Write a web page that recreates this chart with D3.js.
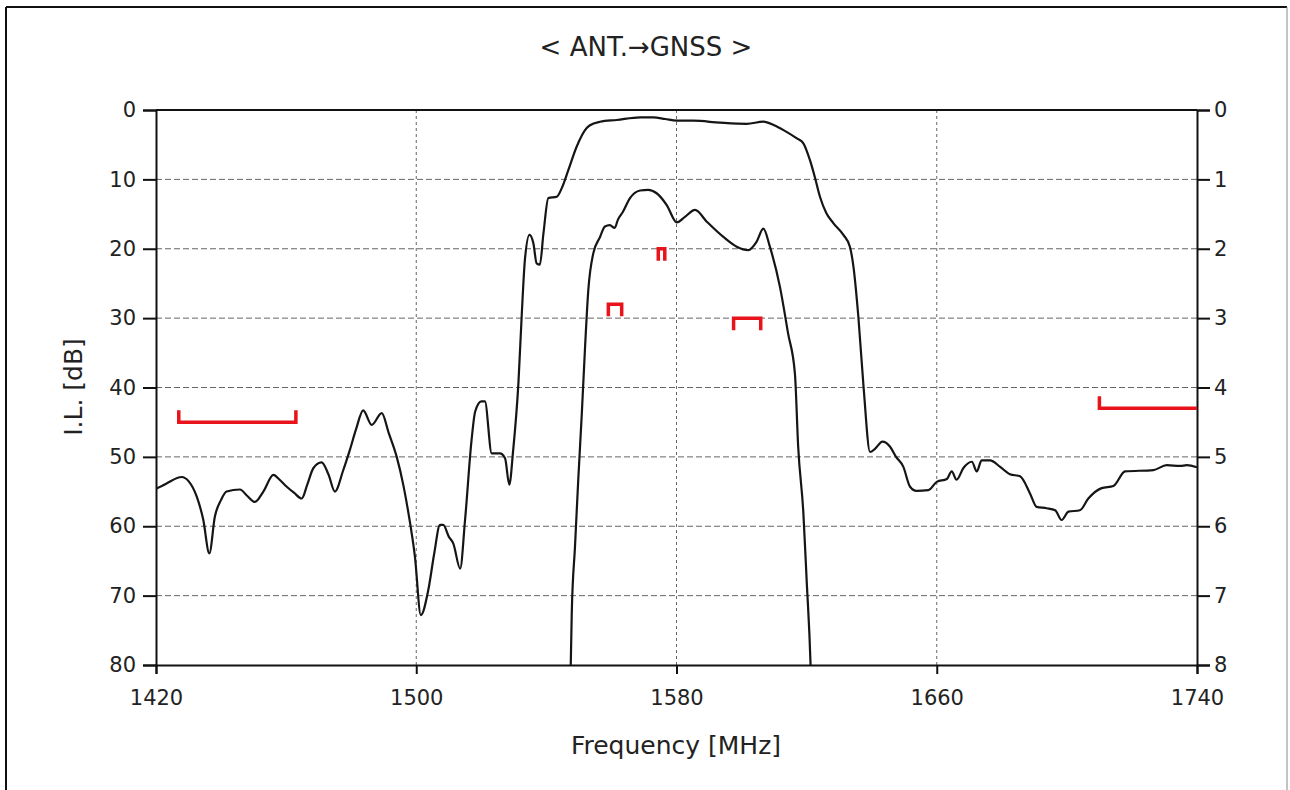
<!DOCTYPE html>
<html>
<head>
<meta charset="utf-8">
<script src="https://cdn.jsdelivr.net/npm/d3@7"></script>
<style>
  html, body { margin: 0; padding: 0; background: #fff; }
  svg { display: block; }
  text { font-family: "DejaVu Sans", Verdana, sans-serif; fill: #222; }
</style>
</head>
<body>
<svg id="chart" width="1290" height="790"></svg>
<script>
// ---------- data ----------
const chartTitle = "< ANT.→GNSS >";
const xLabel = "Frequency [MHz]";
const yLabel = "I.L. [dB]";
const xTicks = [1420, 1500, 1580, 1660, 1740];
const yTicksLeft = [0, 10, 20, 30, 40, 50, 60, 70, 80];
const yTicksRight = [0, 1, 2, 3, 4, 5, 6, 7, 8];

// wide-span insertion loss (left axis, dB)
const wideFreq = [1420.0,1423,1427.9,1430,1432.5,1434.5,1436.4,1438.1,1440,1441.7,1445.8,1448,1450.4,1453,1456.1,1458,1460.2,1462.5,1464.8,1466.5,1468.4,1470.9,1473,1475.0,1477.5,1479.6,1481.5,1483.7,1486.3,1489.4,1491.5,1494.0,1496,1497.6,1499.6,1501.4,1503.7,1505.5,1507.3,1508.3,1510,1511.4,1513.5,1515.0,1517.0,1518.1,1520.0,1521.1,1523.2,1525.7,1527.3,1528.6,1529.8,1531.4,1532.4,1533.4,1534.8,1536.0,1537.0,1538.0,1539.1,1540.6,1543.2,1544.7,1546.8,1549.3,1552.4,1553.4,1556.5,1561.6,1568.8,1572.9,1576.5,1580.1,1585.2,1593.4,1601.6,1606.7,1610,1612.9,1617.0,1619.0,1621.0,1622.6,1624.1,1626,1628.2,1631.3,1633.3,1634.4,1635.9,1637.5,1639.5,1641.1,1643.3,1645.6,1647.5,1649.7,1651.8,1653.8,1657.4,1660.0,1663.1,1664.6,1666.1,1668.2,1670.8,1672.3,1673.8,1676.4,1679.4,1682.5,1685.6,1688.7,1690.7,1693.8,1696.4,1698.4,1700.5,1704.0,1706.6,1710.7,1714.3,1717.9,1726.6,1730.7,1734.8,1736.9,1740];
const wideLoss = [54.6,53.9,52.9,53.5,55.7,59,63.9,58.6,56.2,55.0,54.7,55.6,56.5,55,52.6,53.3,54.3,55.2,56.0,54,51.6,50.8,52.5,55.0,52,49.0,46,43.3,45.4,43.7,46.5,50.0,54,58.1,64.4,72.8,69.2,64,59.8,59.8,61.5,62.5,66.1,59.1,47.6,43.5,42.0,42.0,49.5,49.5,50.2,54.0,49.0,39.4,29.8,21.6,18.0,19.2,22.1,22.3,17.8,12.7,12.5,11.3,8.6,5.3,2.6,2.2,1.7,1.44,1.06,1.06,1.3,1.54,1.54,1.83,2.0,1.68,2.2,2.9,4.1,4.8,7.2,9.8,12.5,14.8,16.3,18.0,19.7,22.6,29.8,39.9,49.3,48.8,47.8,48.5,50,51.4,54.3,54.9,54.8,53.6,53.2,52.1,53.3,51.6,50.7,52.1,50.5,50.5,51.4,52.5,52.8,55.3,57.2,57.4,57.7,59.1,57.9,57.7,56.0,54.5,54.2,52.1,51.9,51.2,51.3,51.2,51.5];

// passband zoom insertion loss (right axis, dB)
const passFreq = [1547.0,1547.5,1547.8,1548.8,1549.8,1550.9,1551.9,1552.9,1554.4,1556.5,1558.0,1559.5,1561.0,1562.0,1563.5,1565.7,1568.8,1571.3,1573.9,1577.0,1580.1,1582.6,1585.7,1589.3,1594.4,1598.5,1602.1,1604.6,1606.7,1608.7,1611.8,1614.3,1616.4,1617.4,1619.0,1620.0,1621.2,1621.4];
const passLoss = [8.5,7.98,7.26,6.29,5.33,4.37,3.41,2.59,2.07,1.83,1.68,1.66,1.70,1.58,1.47,1.27,1.16,1.15,1.20,1.37,1.62,1.54,1.44,1.61,1.83,1.97,2.02,1.90,1.71,1.97,2.55,3.22,3.80,4.85,5.81,6.77,7.98,8.3];

// spec limits: passband max loss (right axis) and stopband min attenuation (left axis)
const passSpecStart = [1574.4, 1559.05, 1597.55];
const passSpecEnd   = [1576.4, 1563.15, 1605.89];
const passSpecLoss  = [2.0, 2.8, 3.0];
const stopSpecStart = [1427, 1710];
const stopSpecEnd   = [1463, 1760];
const stopSpecLoss  = [45, 43];

// ---------- layout ----------
const svg = d3.select("#chart");
const L = 156, T = 110, R = 1197, B = 665;
const x = d3.scaleLinear().domain([1420, 1740]).range([L, R]);
const yL = d3.scaleLinear().domain([0, 80]).range([T, B]);
const yR = d3.scaleLinear().domain([0, 8]).range([T, B]);

// outer frame
svg.append("line").attr("x1", 6).attr("y1", 7).attr("x2", 6).attr("y2", 790).attr("stroke", "#111").attr("stroke-width", 2);
svg.append("line").attr("x1", 6).attr("y1", 7).attr("x2", 1287).attr("y2", 7).attr("stroke", "#111").attr("stroke-width", 2);
svg.append("line").attr("x1", 1287).attr("y1", 7).attr("x2", 1287).attr("y2", 790).attr("stroke", "#888").attr("stroke-width", 1);

// grid
const grid = svg.append("g");
grid.selectAll("line.h").data(yTicksLeft.filter(d => d > 0 && d < 80)).join("line")
  .attr("x1", L).attr("x2", R).attr("y1", d => yL(d)).attr("y2", d => yL(d))
  .attr("stroke", "#666").attr("stroke-width", 1).attr("stroke-dasharray", "6,3");
grid.selectAll("line.v").data(xTicks.filter(d => d > 1420 && d < 1740)).join("line")
  .attr("x1", d => x(d)).attr("x2", d => x(d)).attr("y1", T).attr("y2", B)
  .attr("stroke", "#666").attr("stroke-width", 1).attr("stroke-dasharray", "3,3");

// axes
const fontSize = 21;
const axL = svg.append("g").attr("transform", `translate(${L},0)`)
  .call(d3.axisLeft(yL).tickValues(yTicksLeft).tickSize(13).tickPadding(7));
const axR = svg.append("g").attr("transform", `translate(${R},0)`)
  .call(d3.axisRight(yR).tickValues(yTicksRight).tickSize(13).tickPadding(4));
const axB = svg.append("g").attr("transform", `translate(0,${B})`)
  .call(d3.axisBottom(x).tickValues(xTicks).tickFormat(d3.format("d")).tickSize(9).tickPadding(16));
[axL, axR, axB].forEach(g => {
  g.select(".domain").attr("stroke", "#111").attr("stroke-width", 2);
  g.selectAll(".tick line").attr("stroke", "#111").attr("stroke-width", 2);
  g.selectAll(".tick text").attr("font-size", fontSize).attr("font-family", "DejaVu Sans").attr("fill", "#222");
});
// top frame
svg.append("line").attr("x1", L).attr("x2", R).attr("y1", T).attr("y2", T).attr("stroke", "#111").attr("stroke-width", 2);

// clip
svg.append("clipPath").attr("id", "plotclip").append("rect")
  .attr("x", L).attr("y", T).attr("width", R - L).attr("height", B - T);
const plot = svg.append("g").attr("clip-path", "url(#plotclip)");

// curves
const wideLine = d3.line().x((d, i) => x(wideFreq[i])).y((d, i) => yL(wideLoss[i])).curve(d3.curveMonotoneX);
plot.append("path").datum(wideLoss).attr("d", wideLine)
  .attr("fill", "none").attr("stroke", "#151515").attr("stroke-width", 2.2).attr("stroke-linejoin", "round");
const passLine = d3.line().x((d, i) => x(passFreq[i])).y((d, i) => yR(passLoss[i])).curve(d3.curveMonotoneX);
plot.append("path").datum(passLoss).attr("d", passLine)
  .attr("fill", "none").attr("stroke", "#151515").attr("stroke-width", 2.2).attr("stroke-linejoin", "round");

// spec brackets
const red = "#e8131b", leg = 12;
plot.selectAll("path.pass").data(passSpecLoss).join("path")
  .attr("d", (v, i) => {
    const x1 = x(passSpecStart[i]), x2 = x(passSpecEnd[i]), yy = yR(v);
    return `M${x1},${yy + leg}L${x1},${yy}L${x2},${yy}L${x2},${yy + leg}`;
  })
  .attr("fill", "none").attr("stroke", red).attr("stroke-width", 3.5);
plot.selectAll("path.stop").data(stopSpecLoss).join("path")
  .attr("d", (v, i) => {
    const x1 = x(stopSpecStart[i]), x2 = x(stopSpecEnd[i]), yy = yL(v);
    return `M${x1},${yy - leg}L${x1},${yy}L${x2},${yy}L${x2},${yy - leg}`;
  })
  .attr("fill", "none").attr("stroke", red).attr("stroke-width", 3.5);

// titles
svg.append("text").attr("x", 646).attr("y", 56).attr("text-anchor", "middle")
  .attr("font-size", 26).text(chartTitle);
svg.append("text").attr("x", 676).attr("y", 754).attr("text-anchor", "middle")
  .attr("font-size", 25).text(xLabel);
svg.append("text").attr("transform", "translate(82,387) rotate(-90)").attr("text-anchor", "middle")
  .attr("font-size", 25).text(yLabel);
</script>
</body>
</html>
